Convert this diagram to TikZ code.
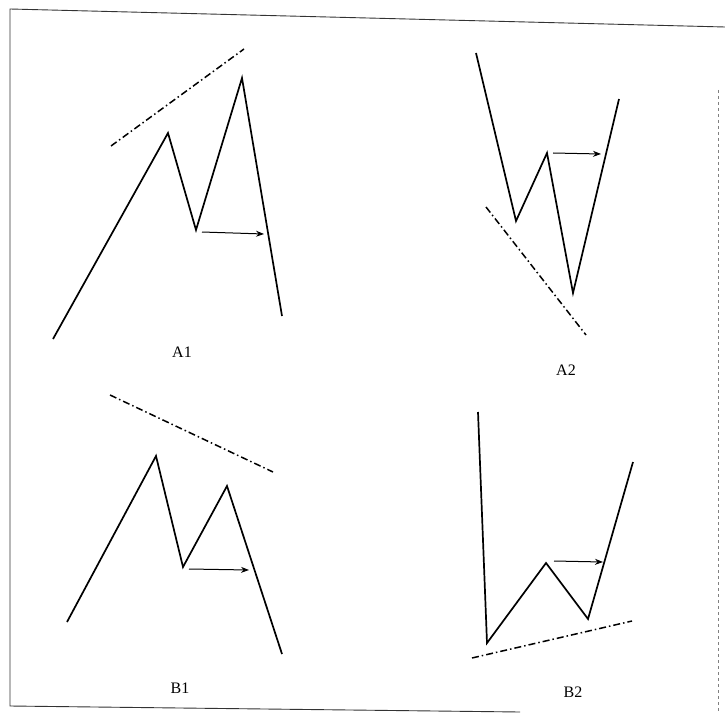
\documentclass[tikz,border=0pt]{standalone}
\usepackage{fontspec}
\setmainfont{Liberation Serif}
\usetikzlibrary{arrows.meta}
\begin{document}
\begin{tikzpicture}[x=1pt,y=-1pt,
  wave/.style={line width=1.7pt,line join=miter},
  trend/.style={line width=1.5pt,dash pattern=on 7pt off 3pt on 1.5pt off 3pt},
  move/.style={line width=1pt,-{Stealth[length=8pt,width=6pt]}},
  frame/.style={line width=0.9pt,black!80},
  lbl/.style={font=\fontsize{16}{18}\selectfont}]
\useasboundingbox (0,0) rectangle (725,722);
% frame
\coordinate (f1) at (10,9);
\coordinate (f2) at (725,27);
\coordinate (f3) at (10,706);
\coordinate (f4) at (520,712);
\draw[frame] (f2) -- (f1) -- (f3) -- (f4);
\draw[frame,dashed,black!50] (718,90) -- (718,712);
% A1
\coordinate (a1) at (53,339); \coordinate (a2) at (168,133); \coordinate (a3) at (196,230);
\coordinate (a4) at (242,78); \coordinate (a5) at (282,316);
\draw[wave] (a1) -- (a2) -- (a3) -- (a4) -- (a5);
\coordinate (a6) at (202,232); \coordinate (a7) at (264,234);
\draw[move] (a6) -- (a7);
\coordinate (a8) at (111,146); \coordinate (a9) at (244,49);
\draw[trend] (a8) -- (a9);
\node[lbl] (la) at (182,352) {A1};
% A2
\coordinate (b1) at (476,53); \coordinate (b2) at (516,221); \coordinate (b3) at (547,153);
\coordinate (b4) at (573,293); \coordinate (b5) at (619,99);
\draw[wave] (b1) -- (b2) -- (b3) -- (b4) -- (b5);
\coordinate (b6) at (553,153); \coordinate (b7) at (601,154);
\draw[move] (b6) -- (b7);
\coordinate (b8) at (486,207); \coordinate (b9) at (586,335);
\draw[trend] (b8) -- (b9);
\node[lbl] (lb) at (566,370) {A2};
% B1
\coordinate (c1) at (67,622); \coordinate (c2) at (156,456); \coordinate (c3) at (183,567);
\coordinate (c4) at (227,486); \coordinate (c5) at (282,654);
\draw[wave] (c1) -- (c2) -- (c3) -- (c4) -- (c5);
\coordinate (c6) at (189,569); \coordinate (c7) at (249,570);
\draw[move] (c6) -- (c7);
\coordinate (c8) at (110,395); \coordinate (c9) at (273,472);
\draw[trend] (c8) -- (c9);
\node[lbl] (lc) at (180,688) {B1};
% B2
\coordinate (d1) at (478,412); \coordinate (d2) at (487,643); \coordinate (d3) at (546,563);
\coordinate (d4) at (588,619); \coordinate (d5) at (633,462);
\draw[wave] (d1) -- (d2) -- (d3) -- (d4) -- (d5);
\coordinate (d6) at (554,561); \coordinate (d7) at (603,562);
\draw[move] (d6) -- (d7);
\coordinate (d8) at (472,658); \coordinate (d9) at (632,621);
\draw[trend] (d8) -- (d9);
\node[lbl] (ld) at (573,692) {B2};
\end{tikzpicture}
\end{document}
